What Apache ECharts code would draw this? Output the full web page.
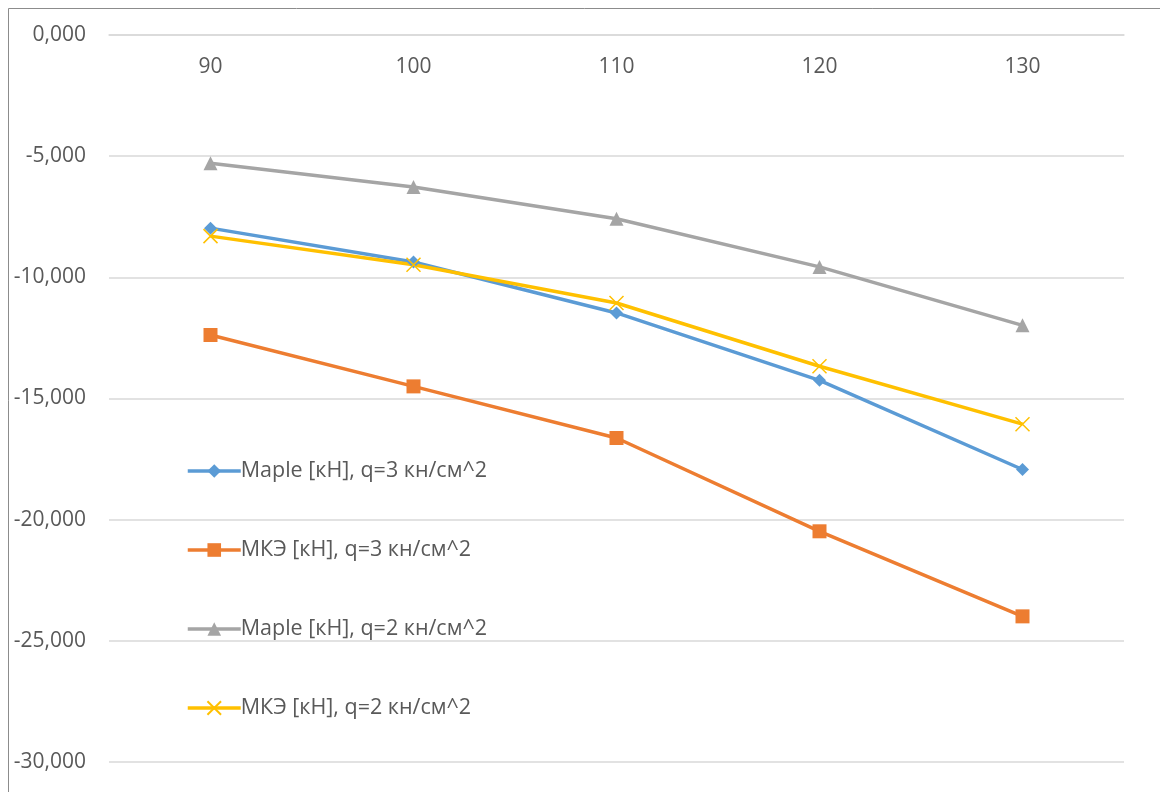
<!DOCTYPE html>
<html>
<head>
<meta charset="utf-8">
<script src="https://cdn.jsdelivr.net/npm/echarts@6/dist/echarts.min.js"></script>
<style>
  html, body { margin: 0; padding: 0; background: #fff; }
  #chart { width: 1160px; height: 792px; }
</style>
</head>
<body>
<div id="chart"></div>
<script>
// Span lengths (x categories)
const categories = ['90', '100', '110', '120', '130'];

// Forces, kN
const mapleQ3 = [-7.97, -9.37, -11.47, -14.25, -17.93];
const femQ3   = [-12.38, -14.50, -16.63, -20.48, -23.99];
const mapleQ2 = [-5.29, -6.27, -7.58, -9.57, -11.98];
const femQ2   = [-8.30, -9.48, -11.06, -13.67, -16.06];

const seriesNames = [
  'Maple [кН], q=3 кн/см^2',
  'МКЭ [кН], q=3 кн/см^2',
  'Maple [кН], q=2 кн/см^2',
  'МКЭ [кН], q=2 кн/см^2'
];

const yTicks = { min: -30, max: 0, interval: 5 };

const FONT = '"Open Sans", "Noto Sans", sans-serif';
const TEXT = '#595959';
const CROSS = 'path://M0,0L10,10M10,0L0,10';

function lineSeries(name, data, color, symbol, size, extra) {
  return Object.assign({
    name: name,
    type: 'line',
    data: data,
    symbol: symbol,
    symbolSize: size,
    showAllSymbol: true,
    lineStyle: { color: color, width: 3.5 },
    itemStyle: { color: color, borderColor: color, borderWidth: 0 },
    emphasis: { disabled: true },
    animation: false
  }, extra || {});
}

const chart = echarts.init(document.getElementById('chart'), null, { renderer: 'canvas' });

chart.setOption({
  backgroundColor: '#ffffff',
  textStyle: { fontFamily: FONT },
  graphic: [{
    type: 'rect',
    shape: { x: 8.5, y: 8.5, width: 1400, height: 1000 },
    style: { fill: 'none', stroke: '#8c8c8c', lineWidth: 1 },
    silent: true,
    z: -1
  }],
  grid: { left: 109, right: 36, top: 35, bottom: 30, containLabel: false },
  legend: {
    orient: 'vertical',
    left: 186,
    top: 460,
    padding: 0,
    itemWidth: 53,
    itemHeight: 17,
    itemGap: 57,
    lineStyle: { width: 3.5 },
    textStyle: { color: TEXT, fontSize: 21.5, fontFamily: FONT, padding: [0, 0, 0, -5] },
    data: seriesNames
  },
  xAxis: {
    type: 'category',
    position: 'top',
    data: categories,
    boundaryGap: true,
    axisLine: { show: true, lineStyle: { color: '#d9d9d9', width: 1.5 } },
    axisTick: { show: false },
    axisLabel: { inside: true, margin: 22, color: TEXT, fontSize: 21, fontFamily: FONT }
  },
  yAxis: {
    type: 'value',
    min: yTicks.min,
    max: yTicks.max,
    interval: yTicks.interval,
    axisLine: { show: false },
    axisTick: { show: false },
    splitLine: { lineStyle: { color: '#d9d9d9', width: 1.5 } },
    axisLabel: {
      margin: 23,
      color: TEXT,
      fontSize: 21,
      fontFamily: FONT,
      formatter: v => v.toFixed(3).replace('.', ',')
    }
  },
  series: [
    lineSeries(seriesNames[0], mapleQ3, '#5B9BD5', 'diamond', 13),
    lineSeries(seriesNames[1], femQ3, '#ED7D31', 'rect', 14),
    lineSeries(seriesNames[2], mapleQ2, '#A5A5A5', 'triangle', 14),
    lineSeries(seriesNames[3], femQ2, '#FFC000', CROSS, 14, {
      itemStyle: { color: 'rgba(0,0,0,0)', borderColor: '#FFC000', borderWidth: 1.5 }
    })
  ]
});
</script>
</body>
</html>
